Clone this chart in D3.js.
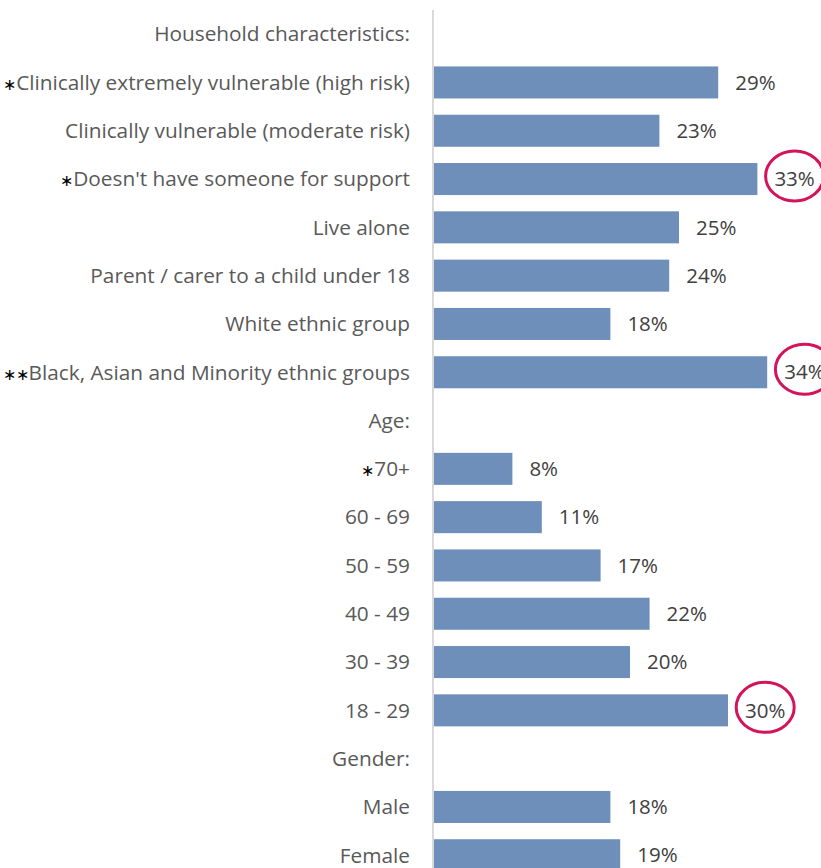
<!DOCTYPE html>
<html>
<head>
<meta charset="utf-8">
<script src="https://cdn.jsdelivr.net/npm/d3@7"></script>
<style>
  html, body { margin: 0; padding: 0; background: #ffffff; }
  svg { display: block; }
</style>
</head>
<body>
<svg id="chart" width="821" height="868"></svg>
<script>
// Row labels, top to bottom; section headings carry no value
const categories = [
  "Household characteristics:",
  "Clinically extremely vulnerable (high risk)",
  "Clinically vulnerable (moderate risk)",
  "Doesn't have someone for support",
  "Live alone",
  "Parent / carer to a child under 18",
  "White ethnic group",
  "Black, Asian and Minority ethnic groups",
  "Age:",
  "70+",
  "60 - 69",
  "50 - 59",
  "40 - 49",
  "30 - 39",
  "18 - 29",
  "Gender:",
  "Male",
  "Female"
];
// Percentage for each row (null = heading)
const values = [null, 29, 23, 33, 25, 24, 18, 34, null, 8, 11, 17, 22, 20, 30, null, 18, 19];
// Significance markers shown before the label
const markers = ["", "∗", "", "∗", "", "", "", "∗∗", "", "∗", "", "", "", "", "", "", "", ""];
// Rows whose value label is ringed
const highlighted = ["Doesn't have someone for support", "Black, Asian and Minority ethnic groups", "18 - 29"];

const svg = d3.select("#chart");
const axisX = 434;
const font = "'Open Sans', sans-serif";

const x = d3.scaleLinear().domain([0, 40]).range([axisX, axisX + 392]);
const y = d3.scaleBand().domain(categories).range([10, 10 + 48.3 * categories.length]).paddingInner(0.337).paddingOuter(0.1685);

const rows = categories.map((c, i) => ({ label: c, value: values[i], marker: markers[i] }));

// Bars
svg.append("g").selectAll("rect")
  .data(rows.filter(d => d.value !== null))
  .join("rect")
  .attr("x", x(0))
  .attr("y", d => y(d.label))
  .attr("width", d => x(d.value) - x(0))
  .attr("height", y.bandwidth())
  .attr("fill", "#6d8fba");

// Vertical category axis line
svg.append("line")
  .attr("x1", axisX - 1).attr("x2", axisX - 1)
  .attr("y1", 10).attr("y2", 868)
  .attr("stroke", "#d9d9d9").attr("stroke-width", 2);

// Category labels
const labels = svg.append("g").selectAll("text")
  .data(rows)
  .join("text")
  .attr("x", 410)
  .attr("y", d => y(d.label) + y.bandwidth() / 2)
  .attr("dy", "0.35em")
  .attr("text-anchor", "end")
  .attr("font-family", font)
  .attr("font-size", 20.8)
  .attr("fill", "#595959");
labels.filter(d => d.marker).append("tspan")
  .attr("fill", "#000")
  .attr("font-size", 16)
  .text(d => d.marker);
labels.append("tspan").text(d => d.label);

// Value labels
const valueRows = rows.filter(d => d.value !== null);
const valueLabels = svg.append("g").selectAll("text")
  .data(valueRows)
  .join("text")
  .attr("x", d => x(d.value) + 17)
  .attr("y", d => y(d.label) + y.bandwidth() / 2)
  .attr("dy", "0.35em")
  .attr("font-family", font)
  .attr("font-size", 20.5)
  .attr("fill", "#404040")
  .text(d => d.value + "%");

// Rings around highlighted values, centred on their label
const widths = new Map();
valueLabels.each(function(d) { widths.set(d.label, this.getComputedTextLength()); });

svg.append("g").selectAll("ellipse")
  .data(valueRows.filter(d => highlighted.includes(d.label)))
  .join("ellipse")
  .attr("cx", d => x(d.value) + 17 + widths.get(d.label) / 2)
  .attr("cy", d => y(d.label) + y.bandwidth() / 2 - 3)
  .attr("rx", 29)
  .attr("ry", 25)
  .attr("fill", "none")
  .attr("stroke", "#d4145a")
  .attr("stroke-width", 3);
</script>
</body>
</html>
